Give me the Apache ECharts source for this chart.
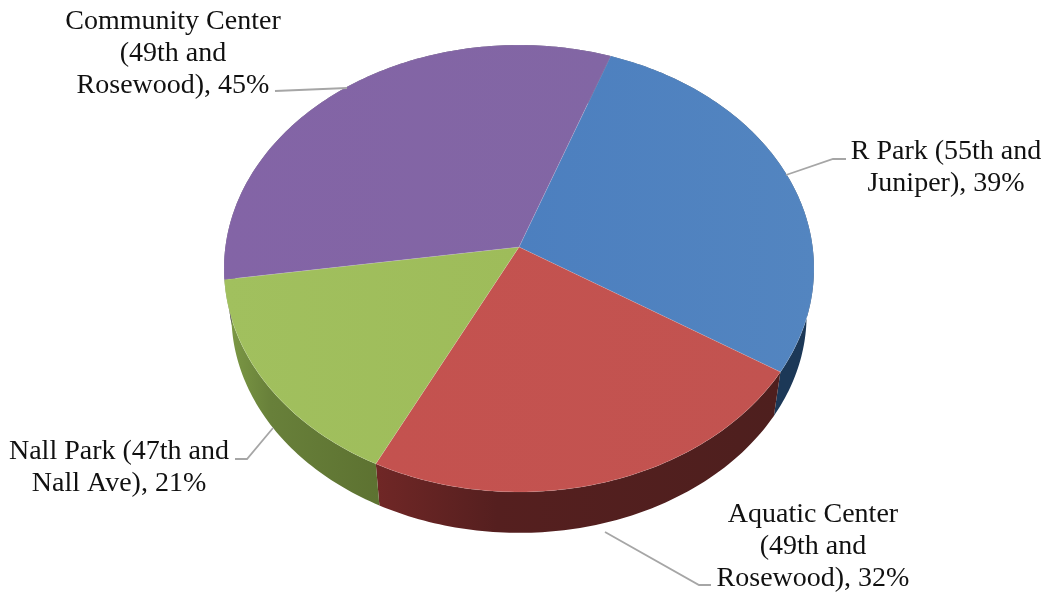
<!DOCTYPE html>
<html>
<head>
<meta charset="utf-8">
<style>
  html, body { margin: 0; padding: 0; background: #fff; }
  #chart { width: 1050px; height: 592px; }
</style>
<script src="https://cdn.jsdelivr.net/npm/echarts@6/dist/echarts.min.js"></script>
</head>
<body>
<div id="chart"></div>
<script>
const categories = ['R Park (55th and\nJuniper)', 'Aquatic Center\n(49th and\nRosewood)', 'Nall Park (47th and\nNall Ave)', 'Community Center\n(49th and\nRosewood)'];
const shares = [39, 32, 21, 45];

const faceColors = [
  ['#4c7fbf', '#5385c0'],
  ['#c4524f', '#c25350'],
  ['#a1c05e', '#9ebc5a'],
  ['#8364a6', '#8266a4']
];
const wallColors = [
  ['#2b4f78', '#1c3857', '#1c3857'],
  ['#702726', '#551f1f', '#4e1f1e'],
  ['#7e9b46', '#68803a', '#5d7231'],
  ['#4a3a60', '#4a3a60', '#4a3a60']
];

// label anchor + leader line for every slice
const labelPos = [
  { x: 946, y: 168, line: [[846, 159], [833, 159], [786, 175]] },
  { x: 813, y: 547, line: [[711, 585], [699, 585], [605, 532]] },
  { x: 119, y: 468, line: [[235, 459], [247, 459], [273, 428]] },
  { x: 173, y: 54, line: [[275, 91], [347, 88]] }
];

// tilted disc: perspective of a unit circle onto the page
const pie = { cx: 519, cy: 247, r: 293.6, a: 221.4, c: -0.0962, startAngle: 19.9, depth: 47, shrink: 0.975 };

const total = shares.reduce((s, v) => s + v, 0);

function rimPoint(deg, isBottom) {
  const t = deg * Math.PI / 180;
  const u = Math.sin(t);
  const v = -Math.cos(t);
  const w = 1 + pie.c * v;
  let dx = pie.r * u / w;
  let dy = pie.a * v / w;
  if (isBottom) {
    dx *= pie.shrink;
    dy = dy * pie.shrink + pie.depth;
  }
  return [pie.cx + dx, pie.cy + dy];
}

function sliceAngles(index) {
  let sum = 0;
  for (let i = 0; i < index; i++) sum += shares[i];
  const from = pie.startAngle + sum / total * 360;
  return [from, from + shares[index] / total * 360];
}

function arc(from, to, isBottom) {
  const pts = [];
  const n = Math.ceil(Math.abs(to - from));
  for (let i = 0; i <= n; i++) pts.push(rimPoint(from + (to - from) * i / n, isBottom));
  return pts;
}

function hGradient(cols) {
  return {
    type: 'linear', x: 0, y: 0, x2: 1, y2: 0,
    colorStops: cols.map((c, i) => ({ offset: i === 1 && cols.length === 3 ? 0.3 : i / (cols.length - 1), color: c }))
  };
}

function renderWall(params) {
  const [from, to] = sliceAngles(params.dataIndex);
  const pts = arc(from, to, false).concat(arc(to, from, true));
  return {
    type: 'polygon',
    shape: { points: pts },
    style: { fill: hGradient(wallColors[params.dataIndex]) }
  };
}

function renderFace(params) {
  const [from, to] = sliceAngles(params.dataIndex);
  const pts = [[pie.cx, pie.cy]].concat(arc(from, to, false));
  return {
    type: 'polygon',
    shape: { points: pts },
    style: { fill: hGradient(faceColors[params.dataIndex]), stroke: 'rgba(255,255,255,0.1)', lineWidth: 1 }
  };
}

function renderLabel(params) {
  const i = params.dataIndex;
  const p = labelPos[i];
  return {
    type: 'group',
    children: [
      {
        type: 'polyline',
        shape: { points: p.line },
        style: { stroke: '#a6a6a6', lineWidth: 1.8, fill: null }
      },
      {
        type: 'text',
        x: p.x,
        y: p.y,
        style: {
          text: categories[i] + ', ' + shares[i] + '%',
          font: '28px "Liberation Serif"',
          lineHeight: 32,
          fill: '#111',
          align: 'center',
          verticalAlign: 'middle'
        }
      }
    ]
  };
}

const chart = echarts.init(document.getElementById('chart'));
chart.setOption({
  animation: false,
  backgroundColor: '#fff',
  series: [
    { type: 'custom', coordinateSystem: 'none', silent: true, z: 1, renderItem: renderWall, data: shares },
    { type: 'custom', coordinateSystem: 'none', silent: true, z: 2, renderItem: renderFace, data: shares },
    { type: 'custom', coordinateSystem: 'none', silent: true, z: 3, renderItem: renderLabel, data: shares }
  ]
});
</script>
</body>
</html>
